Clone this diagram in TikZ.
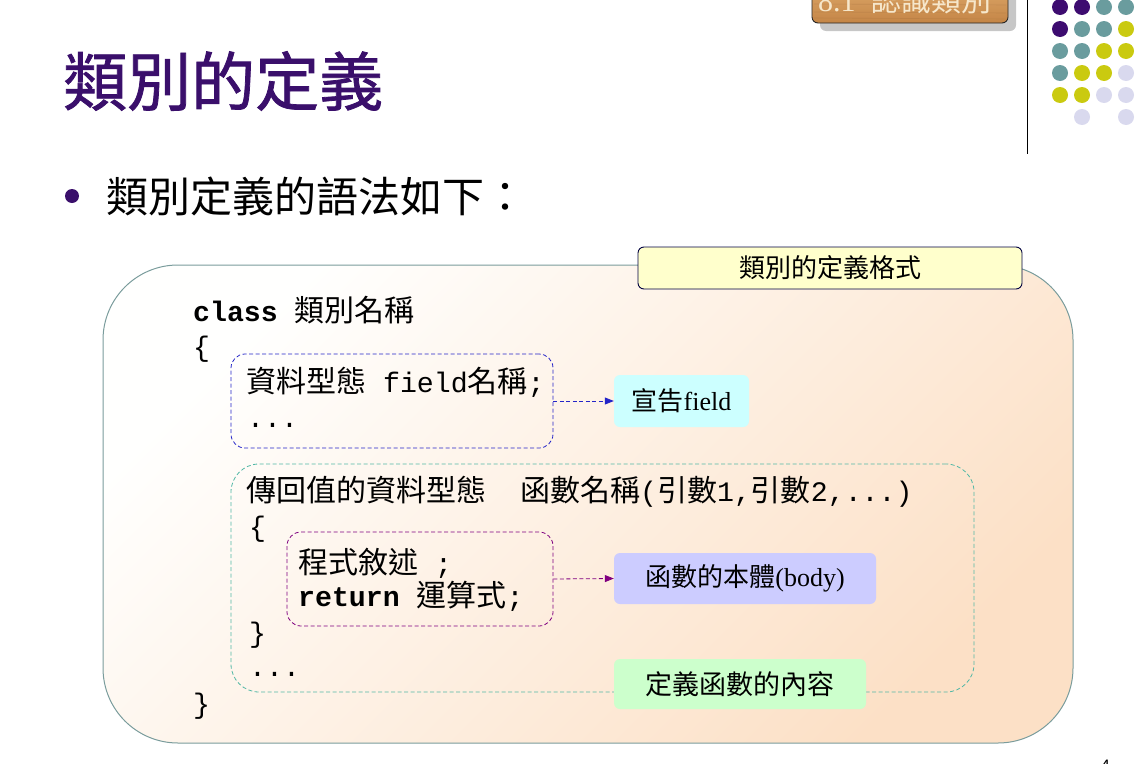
\documentclass[tikz,border=0pt]{standalone}
\usepackage{fontspec}
\setmainfont{Noto Sans CJK TC}
\newfontfamily\titlefont[FakeBold=1.2]{Noto Sans CJK TC}
\newfontfamily\mono[Scale=0.94]{Liberation Mono}
\newfontfamily\tms{Liberation Serif}
\usetikzlibrary{arrows.meta}
\newcommand\pxsize[1]{\fontsize{#1}{#1}\selectfont}

\definecolor{titlepurple}{HTML}{3A0F6B}
\definecolor{dotpurple}{HTML}{3D0C70}
\definecolor{dotteal}{HTML}{6A9C9E}
\definecolor{dotyellow}{HTML}{CACA10}
\definecolor{dotlilac}{HTML}{D9D9EE}
\definecolor{frameedge}{HTML}{7A9C9C}
\definecolor{peachlight}{HTML}{FFFFFE}
\definecolor{peachdark}{HTML}{FCE0C6}
\definecolor{fieldblue}{HTML}{2424C8}
\definecolor{functeal}{HTML}{52B8A6}
\definecolor{bodypurple}{HTML}{800080}
\definecolor{tagyellow}{HTML}{FFFFCC}
\definecolor{tagcyan}{HTML}{CCFFFF}
\definecolor{taglilac}{HTML}{CCCCFF}
\definecolor{taggreen}{HTML}{CCFFCC}
\definecolor{woodlight}{HTML}{E0AC6E}
\definecolor{wooddark}{HTML}{C48546}
\definecolor{woodtext}{HTML}{F6E7CB}

\tikzset{
  codeline/.style={anchor=base west, inner sep=0pt, font=\pxsize{30}},
  dashbox/.style={draw, dash pattern=on 4pt off 2.5pt, line width=0.8pt,
                  rounded corners=14pt, inner sep=0pt},
  tagbox/.style={rounded corners=6pt, inner sep=0pt, font=\pxsize{26}},
  linkarrow/.style={-{Triangle[length=9pt,width=7pt]},
                    dash pattern=on 4pt off 2.5pt, line width=0.8pt},
  dot/.style={circle, inner sep=0pt, minimum size=16pt},
}

\begin{document}
\begin{tikzpicture}[x=1pt, y=-1pt]
\useasboundingbox (0,0) rectangle (1135,763);
\clip (0,0) rectangle (1135,763);

% section tab in the top corner
\fill[black!22, rounded corners=6pt] (820,-20) rectangle (1016,31);
\shade[rounded corners=6pt, top color=woodlight, bottom color=wooddark]
  (812,-20) rectangle (1008,23);
\foreach \yy in {4,12,18}
  \draw[wooddark!80!black, opacity=0.25, line width=0.6pt] (814,\yy) -- (1006,\yy+1);
\draw[black!85, line width=0.9pt, rounded corners=6pt] (812,-20) rectangle (1008,23);
\node (tab) [anchor=base west, inner sep=0pt, text=woodtext, font=\pxsize{30}]
  at (818,11) {{\tms 8.1}\hspace{16pt}認識類別};

% divider and dot grid
\draw[line width=1pt] (1027,0) coordinate (divtop) -- (1027,154) coordinate (divbot);
\foreach \row/\cols in {0/{dotpurple,dotpurple,dotteal,dotteal},
                        1/{dotpurple,dotteal,dotteal,dotyellow},
                        2/{dotteal,dotteal,dotyellow,dotyellow},
                        3/{dotteal,dotyellow,dotyellow,dotlilac},
                        4/{dotyellow,dotyellow,dotlilac,dotlilac},
                        5/{none,dotlilac,none,dotlilac}}{
  \foreach \c [count=\i from 0] in \cols {
    \def\nonecol{none}\ifx\c\nonecol\else
      \node (d\row\i) [dot, fill=\c] at (1060+22*\i, 7+22*\row) {};
    \fi
  }
}

% title and bullet
\node (title) [anchor=west, inner sep=0pt, text=titlepurple, font=\titlefont\pxsize{64}]
  at (63,81) {類別的定義};
\node (bullet) [circle, fill=titlepurple, inner sep=0pt, minimum size=14pt] at (72,196) {};
\node (intro) [anchor=west, inner sep=0pt, font=\pxsize{42}] at (106,196) {類別定義的語法如下：};

% outer frame
\shade[rounded corners=75pt, top color=peachlight, bottom color=peachdark, shading angle=45]
  (103,265) rectangle (1073,743);
\draw[frameedge, line width=1pt, rounded corners=75pt] (103,265) rectangle (1073,743);
\node (frame) [inner sep=0pt, minimum width=970pt, minimum height=478pt] at (588,504) {};

\node (fmt) [tagbox, draw=black!75!blue, line width=0.9pt, fill=tagyellow,
  minimum width=384pt, minimum height=42pt] at (830,268) {類別的定義格式};

% code body
\node (l1) [codeline] at (193,321) {{\mono\bfseries class }類別名稱};
\node (l2) [codeline] at (193,356) {{\mono\{}};

\node (fieldbox) [dashbox, draw=fieldblue, minimum width=322pt, minimum height=94pt] at (392,401) {};
\node (l3) [codeline] at (246,392) {資料型態{\mono\ field}名稱{\mono;}};
\node (l4) [codeline] at (247,427) {{\mono...}};

\node (funcbox) [dashbox, draw=functeal, rounded corners=28pt,
  minimum width=743pt, minimum height=228pt] at (602.5,578) {};
\node (l5) [codeline] at (246,501) {傳回值的資料型態\hspace{34pt}函數名稱{\mono(}引數{\mono 1,}引數{\mono 2,...)}};
\node (l6) [codeline] at (249,536) {{\mono\{}};

\node (bodybox) [dashbox, draw=bodypurple, minimum width=266pt, minimum height=94pt] at (420,579) {};
\node (l7) [codeline] at (298,573) {程式敘述{\mono\ ;}};
\node (l8) [codeline] at (298,606) {{\mono\bfseries return }運算式{\mono;}};
\node (l9) [codeline] at (249,642) {{\mono\}}};
\node (l10) [codeline] at (249,676) {{\mono...}};
\node (l11) [codeline] at (193,713) {{\mono\}}};

% explanation tags
\node (decl) [tagbox, fill=tagcyan, minimum width=135pt, minimum height=52pt] at (681.5,401)
  {宣告{\tms field}};
\node (body) [tagbox, fill=taglilac, minimum width=262pt, minimum height=51pt] at (745,578.5)
  {函數的本體{\tms (body)}};
\node (content) [tagbox, fill=taggreen, font=\pxsize{27}, minimum width=252pt, minimum height=50pt]
  at (740,684) {定義函數的內容};

\draw[linkarrow, fieldblue] (fieldbox.east) -- (decl.west);
\draw[linkarrow, bodypurple] (bodybox.east) -- (body.west);

% page number
\node (page) [anchor=base west, inner sep=0pt, font=\pxsize{16}] at (1101,771) {4};
\end{tikzpicture}
\end{document}
